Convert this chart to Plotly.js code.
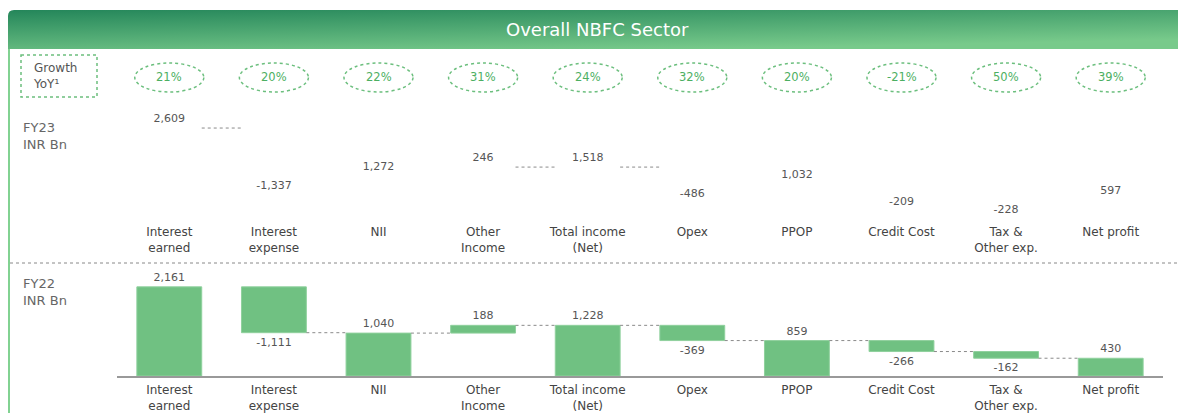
<!DOCTYPE html>
<html>
<head>
<meta charset="utf-8">
<script src="https://cdn.plot.ly/plotly-3.0.1.min.js"></script>
<style>html,body{margin:0;padding:0;background:#fff;}#chart{width:1178px;height:413px;}</style>
</head>
<body>
<div id="chart"></div>
<script>
// ---- data ----
const categories = ['Interest<br>earned', 'Interest<br>expense', 'NII', 'Other<br>Income', 'Total income<br>(Net)', 'Opex', 'PPOP', 'Credit Cost', 'Tax &<br>Other exp.', 'Net profit'];
const measures = ['absolute', 'relative', 'absolute', 'relative', 'absolute', 'relative', 'absolute', 'relative', 'relative', 'absolute'];
const fy23Values = [2609, -1337, 1272, 246, 1518, -486, 1032, -209, -228, 597];
const fy22Values = [2161, -1111, 1040, 188, 1228, -369, 859, -266, -162, 430];
const growthYoY = ['21%', '20%', '22%', '31%', '24%', '32%', '20%', '-21%', '50%', '39%'];
const fy23Connectors = [0, 3, 4];
const fy22Connectors = [1, 2, 3, 4, 5, 6, 7, 8];
const chartTitle = 'Overall NBFC Sector';

// ---- helpers ----
const W = 1178, H = 413, ML = 117, MR = 15;
const PW = W - ML - MR;
const px2x = p => (p - ML) / PW;
const px2y = p => 1 - p / H;
const idx = categories.map((c, i) => i);
const fmt = v => v.toLocaleString('en-US');

function waterfall(values) {
  let level = 0;
  const base = [], ends = [];
  values.forEach((v, i) => {
    if (measures[i] === 'absolute') { base.push(0); level = v; }
    else { base.push(level); level = level + v; }
    ends.push(level);
  });
  return {base, ends};
}
const w23 = waterfall(fy23Values);
const w22 = waterfall(fy22Values);

const GREEN = '#70c182';
const TXT = '#555555';
const FONT = 'DejaVu Sans, Arial, sans-serif';
const BW = 0.62;

const traces = [
  {
    type: 'bar', x: idx, y: fy22Values, base: w22.base, width: BW,
    xaxis: 'x', yaxis: 'y',
    marker: {color: GREEN, line: {color: '#8fd19d', width: 1}},
    text: fy22Values.map(fmt), textposition: 'outside', cliponaxis: false,
    constraintext: 'none',
    textfont: {family: FONT, size: 11, color: TXT}, hoverinfo: 'skip'
  },
  {
    type: 'bar', x: idx, y: fy23Values, base: w23.base, width: BW,
    xaxis: 'x2', yaxis: 'y2',
    marker: {color: 'rgba(0,0,0,0)'},
    text: fy23Values.map(fmt), textposition: 'outside', cliponaxis: false,
    constraintext: 'none',
    textfont: {family: FONT, size: 11, color: TXT}, hoverinfo: 'skip'
  }
];

const shapes = [];
const annotations = [];
const images = [];

// title bar gradient
const barW = W - 8, barH = 39;
const svg = `<svg xmlns="http://www.w3.org/2000/svg" width="${barW}" height="${barH}" viewBox="0 0 ${barW} ${barH}" preserveAspectRatio="none"><defs><linearGradient id="g" x1="0" y1="0" x2="0.6" y2="1"><stop offset="0" stop-color="#24865a"/><stop offset="1" stop-color="#78ca8b"/></linearGradient></defs><path d="M0,6 Q0,0 6,0 H${barW} V${barH} H0 Z" fill="url(#g)"/></svg>`;
images.push({
  source: 'data:image/svg+xml;charset=utf-8,' + encodeURIComponent(svg),
  xref: 'paper', yref: 'paper', x: px2x(8), y: px2y(10),
  sizex: barW / PW, sizey: barH / H, sizing: 'stretch',
  xanchor: 'left', yanchor: 'top', layer: 'below'
});
annotations.push({
  text: chartTitle, xref: 'paper', yref: 'paper', x: px2x(597), y: px2y(30),
  xanchor: 'center', yanchor: 'middle', showarrow: false,
  font: {family: FONT, size: 18, color: '#ffffff'}
});

// left border
shapes.push({type: 'line', xref: 'paper', yref: 'paper', x0: px2x(9), x1: px2x(9), y0: px2y(49), y1: px2y(H), line: {color: '#82d292', width: 2}});
// separator
shapes.push({type: 'line', xref: 'paper', yref: 'paper', x0: px2x(10), x1: px2x(W), y0: px2y(263), y1: px2y(263), line: {color: '#888888', width: 1, dash: 'dot'}});
// growth box
shapes.push({type: 'rect', xref: 'paper', yref: 'paper', x0: px2x(21), x1: px2x(97), y0: px2y(55), y1: px2y(97), line: {color: '#6cbf7e', width: 1.5, dash: 'dot'}});
annotations.push({
  text: 'Growth<br>YoY¹', xref: 'paper', yref: 'paper', x: px2x(31), y: px2y(76),
  xanchor: 'left', yanchor: 'middle', align: 'left', showarrow: false,
  font: {family: FONT, size: 12, color: TXT}
});

// growth ovals
growthYoY.forEach((g, i) => {
  shapes.push({type: 'circle', xref: 'x2', yref: 'paper', x0: i - 0.33, x1: i + 0.33, y0: px2y(92), y1: px2y(63), line: {color: '#6cbf7e', width: 1.5, dash: 'dot'}});
  annotations.push({text: g, xref: 'x2', yref: 'paper', x: i, y: px2y(77.5), showarrow: false, xanchor: 'center', yanchor: 'middle', font: {family: FONT, size: 11.5, color: '#4caf62'}});
});

// FY labels
annotations.push({text: 'FY23<br>INR Bn', xref: 'paper', yref: 'paper', x: px2x(21), y: px2y(136), xanchor: 'left', yanchor: 'middle', align: 'left', showarrow: false, font: {family: FONT, size: 13, color: '#666666'}});
annotations.push({text: 'FY22<br>INR Bn', xref: 'paper', yref: 'paper', x: px2x(21), y: px2y(292), xanchor: 'left', yanchor: 'middle', align: 'left', showarrow: false, font: {family: FONT, size: 13, color: '#666666'}});

// connectors
function addConnectors(list, w, xr, yr) {
  list.forEach(i => {
    shapes.push({type: 'line', xref: xr, yref: yr, x0: i + BW / 2, x1: i + 1 - BW / 2, y0: w.ends[i], y1: w.ends[i], line: {color: '#8a8a8a', width: 1, dash: 'dot'}});
  });
}
addConnectors(fy23Connectors, w23, 'x2', 'y2');
addConnectors(fy22Connectors, w22, 'x', 'y');

const tickFont = {family: FONT, size: 12, color: '#444444'};
const layout = {
  width: W, height: H,
  margin: {l: ML, r: MR, t: 0, b: 0},
  paper_bgcolor: '#ffffff', plot_bgcolor: 'rgba(0,0,0,0)',
  showlegend: false, barmode: 'overlay',
  xaxis: {domain: [0, 1], range: [-0.5, 9.5], anchor: 'y', tickvals: idx, ticktext: categories, tickfont: tickFont, ticklabelstandoff: 2, showgrid: false, zeroline: false, showline: true, linecolor: '#999999', linewidth: 1.5, ticks: '', fixedrange: true},
  yaxis: {domain: [px2y(376), px2y(277)], range: [0, 2400], visible: false, fixedrange: true},
  xaxis2: {domain: [0, 1], range: [-0.5, 9.5], anchor: 'y2', tickvals: idx, ticktext: categories, tickfont: tickFont, ticklabelstandoff: 2, showgrid: false, zeroline: false, showline: false, ticks: '', fixedrange: true},
  yaxis2: {domain: [px2y(221.4), px2y(121.2)], range: [0, 2800], visible: false, fixedrange: true},
  shapes, annotations, images,
  font: {family: FONT}
};

Plotly.newPlot('chart', traces, layout, {displayModeBar: false, staticPlot: true});
</script>
</body>
</html>
